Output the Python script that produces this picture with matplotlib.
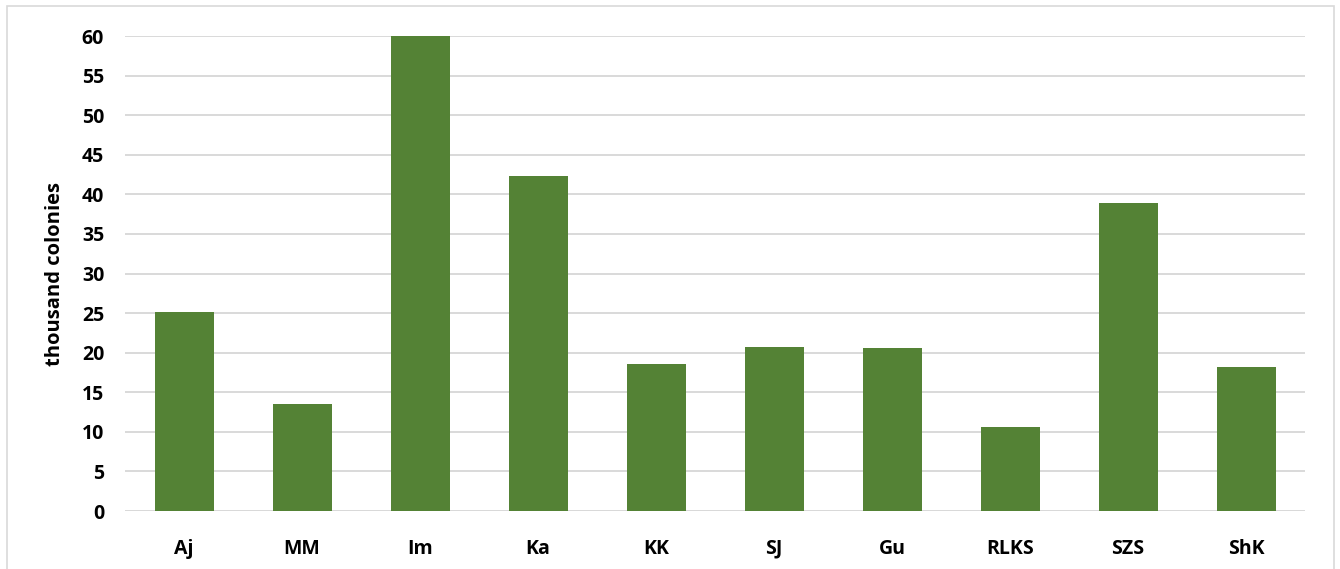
import matplotlib
matplotlib.use('Agg')
import matplotlib.pyplot as plt
from matplotlib.patches import Rectangle
import numpy as np

plt.rcParams['font.family'] = ['Open Sans', 'DejaVu Sans']
plt.rcParams['font.weight'] = 'bold'

sites = ['Aj', 'MM', 'Im', 'Ka', 'KK', 'SJ', 'Gu', 'RLKS', 'SZS', 'ShK']
colonies = [25.1, 13.5, 60.0, 42.3, 18.6, 20.7, 20.6, 10.6, 38.9, 18.2]

fig = plt.figure(figsize=(13.4, 5.69), dpi=100)
ax = fig.add_axes([0.0933, 0.1019, 0.8806, 0.8348])

# light frame around the chart area (open at the bottom edge)
fig.patches.append(Rectangle((7 / 1340, -0.05), 1327 / 1340, 1 - 6 / 569 + 0.05,
                             transform=fig.transFigure, fill=False,
                             edgecolor='#d9d9d9', linewidth=1.2))

x = np.arange(len(sites))
ax.bar(x, colonies, width=0.5, color='#548235', zorder=3)

ax.set_xlim(-0.5, len(sites) - 0.5)
ax.set_ylim(0, 60)
ax.set_yticks(np.arange(0, 61, 5))
ax.set_xticks(x)
ax.set_xticklabels(sites)
ax.grid(True, axis='y', color='#d9d9d9', linewidth=1.4, zorder=0)
ax.tick_params(axis='both', length=0, labelsize=14)
ax.tick_params(axis='x', pad=20)
ax.tick_params(axis='y', pad=15)
for s in ax.spines.values():
    s.set_visible(False)
ax.axhline(0, color='#d9d9d9', linewidth=1.4, zorder=1)

ax.set_ylabel('thousand colonies', fontsize=14.5, fontweight='bold', labelpad=12)

fig.savefig('out.png', dpi=100)
